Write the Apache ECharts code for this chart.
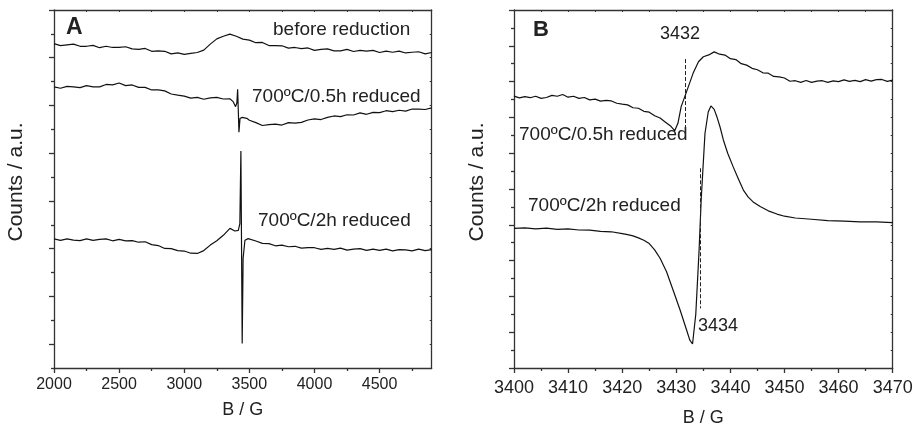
<!DOCTYPE html>
<html><head><meta charset="utf-8">
<script src="https://cdn.jsdelivr.net/npm/echarts@6/dist/echarts.min.js"></script>
<style>html,body{margin:0;padding:0;background:#fff}#c{width:913px;height:427px}</style>
</head><body><div id="c"></div>
<script>
// ---------- Panel A data (B / G vs counts, arbitrary units) ----------
const aBeforeX = [2000,2050,2100,2150,2200,2250,2300,2350,2400,2450,2500,2550,2600,2650,2700,2750,2800,2850,2900,2950,3000,3050,3100,3150,3200,3250,3300,3350,3400,3450,3500,3550,3600,3650,3700,3750,3800,3850,3900,3950,4000,4050,4100,4150,4200,4250,4300,4350,4400,4450,4500,4550,4600,4650,4700,4750,4800,4850,4900];
const aBeforeY = [13.59,13.51,13.54,13.57,13.48,13.48,13.52,13.42,13.48,13.43,
                  13.43,13.46,13.37,13.35,13.39,13.27,13.29,13.27,13.16,13.20,
                  13.14,13.18,13.22,13.32,13.57,13.79,13.90,13.99,13.90,13.78,
                  13.74,13.63,13.64,13.51,13.51,13.50,13.40,13.43,13.38,13.41,
                  13.31,13.35,13.37,13.29,13.29,13.35,13.26,13.31,13.28,13.31,
                  13.22,13.28,13.23,13.28,13.20,13.23,13.25,13.16,13.22];

const a05X = [2000,2050,2100,2150,2200,2250,2300,2350,2400,2450,2500,2550,2600,2650,2700,2750,2800,2850,2900,2950,3000,3050,3100,3150,3200,3250,3300,3350,
              3376,3394,3404,3410,3415,3420,3428,3445,3480,
              3500,3550,3600,3650,3700,3750,3800,3850,3900,3950,4000,4050,4100,4150,4200,4250,4300,4350,4400,4450,4500,4550,4600,4650,4700,4750,4800,4850,4900];
const a05Y = [11.78,11.72,11.80,11.78,11.75,11.83,11.78,11.78,11.88,11.86,
              11.94,11.83,11.86,11.76,11.76,11.65,11.65,11.61,11.48,11.43,
              11.39,11.31,11.34,11.26,11.32,11.34,11.27,11.28,
              11.16,10.95,11.10,11.68,10.81,9.88,10.45,10.50,10.46,
              10.38,10.28,10.16,10.20,10.22,10.18,10.28,10.26,10.29,10.39,
              10.44,10.41,10.50,10.56,10.53,10.61,10.60,10.69,10.63,10.71,
              10.70,10.78,10.74,10.80,10.76,10.85,10.85,10.83,10.90];

const a2hX = [2000,2050,2100,2150,2200,2250,2300,2350,2400,2450,2500,2550,2600,2650,2700,2750,2800,2850,2900,2950,3000,3050,3100,3150,3200,3250,3300,
              3351,3389,3415,3427,3435,3445,3452,3466,3491,
              3550,3600,3650,3700,3750,3800,3850,3900,3950,4000,4050,4100,4150,4200,4250,4300,4350,4400,4450,4500,4550,4600,4650,4700,4750,4800,4850,4900];
const a2hY = [5.41,5.35,5.41,5.36,5.34,5.41,5.35,5.39,5.41,5.33,
              5.39,5.33,5.34,5.27,5.29,5.17,5.13,5.01,5.00,4.92,
              4.90,4.81,4.80,4.92,5.15,5.33,5.56,
              5.85,5.74,5.77,6.05,9.09,1.03,4.60,5.35,5.42,
              5.32,5.22,5.21,5.12,5.15,5.08,5.10,5.02,5.04,5.04,
              4.97,5.01,4.97,5.02,4.94,4.98,5.00,4.93,4.98,4.93,
              4.98,4.91,4.96,4.95,4.91,4.98,4.92,4.96];

// ---------- Panel B data ----------
const b05X = [3400,3401,3402,3403,3404,3405,3406,3407,3408,3409,3410,3411,3412,3413,3414,3415,3416,3417,3418,3419,3420,3421,3422,3423,3424,3425,3426,3427,3428,3429,
              3429.7,3430.3,3430.9,3431.9,3433.1,3434.1,
              3435,3436,3437,3438,3439,3440,3441,3442,3443,3444,3445,3446,3447,3448,3449,3450,3451,3452,3453,3454,3455,3456,3457,3458,3459,3460,3461,3462,3463,3464,3465,3466,3467,3468,3469,3470];
const b05Y = [15.19,15.09,15.16,15.10,15.18,15.06,15.11,15.23,15.18,15.28,
              15.13,15.18,15.06,15.11,14.98,15.02,14.91,14.95,14.92,14.79,
              14.74,14.70,14.54,14.51,14.34,14.29,14.09,13.97,13.73,13.50,
              13.26,13.67,14.60,15.44,16.46,17.11,
              17.39,17.49,17.66,17.53,17.48,17.28,17.23,17.00,16.92,16.74,
              16.66,16.49,16.47,16.29,16.26,16.20,16.02,16.05,15.96,16.06,
              15.96,16.03,16.05,15.96,16.04,16.00,16.10,16.01,16.07,16.00,
              16.11,16.03,16.11,16.12,16.01,16.08];

const b2hX = [3400,3402,3404,3406,3408,3410,3412,3414,3416,3418,3420,3421,3422,3423,3424,3425,3426,3427,
              3428.2,3429.4,3430.7,3431.9,3432.5,3433.0,3433.6,3434.2,3434.6,3435.3,3435.9,3436.4,
              3437.0,3437.5,3438.1,3438.7,3439.5,3440.5,3441.5,3442.4,3443.3,3444.2,3445.5,3447,3448.6,3450,3452,
              3455,3458,3461,3464,3467,3470];
const b2hY = [7.80,7.83,7.77,7.81,7.74,7.77,7.71,7.70,7.63,7.61,7.51,7.45,7.38,7.27,7.14,6.95,6.60,6.13,
              5.38,4.36,3.24,2.12,1.56,1.34,3.0,6.5,9.4,13.1,14.3,14.64,
              14.45,14.04,13.45,12.74,12.00,11.25,10.55,9.94,9.55,9.28,9.02,8.78,8.60,8.48,8.38,
              8.31,8.23,8.21,8.16,8.16,8.12];

// dashed marker lines in panel B: [x, yTop, yBottom]
const bDashX = [3431.7, 3434.5];
const bDashTop = [17.26, 11.16];
const bDashBottom = [13.18, 3.33];

// ---------- ticks ----------
const aXMajor = [2000,2500,3000,3500,4000,4500];
const aXMinor = [2250,2750,3250,3750,4250,4750];
const aXTop = [2000,2250,2500,2750,3000,3250,3500,3750,4000,4250,4500,4750];
const aYMajor = [1,3,5,7,9,11,13,15];
const aYMinor = [0,2,4,6,8,10,12,14];
const aYRight = [0,1,2,3,4,5,6,7,8,9,10,11,12,13,14,15];
const bXMajor = [3400,3410,3420,3430,3440,3450,3460,3470];
const bXMinor = [3405,3415,3425,3435,3445,3455,3465];
const bXTop = [3400,3405,3410,3415,3420,3425,3430,3435,3440,3445,3450,3455,3460,3465,3470];
const bYMajor = [0,2,4,6,8,10,12,14,16,18,20];
const bYMinor = [1,3,5,7,9,11,13,15,17,19];
const bYRight = [0,1,2,3,4,5,6,7,8,9,10,11,12,13,14,15,16,17,18,19,20];

const FONT = '"Liberation Sans", Arial, Helvetica, sans-serif';
const AX = '#333';
const TXT = '#222';
const LINE = '#111';

function pairs(xs, ys){ const n = Math.min(xs.length, ys.length); const out=[]; for(let i=0;i<n;i++) out.push([xs[i], ys[i]]); return out; }

function axLine(show){ return {show:show, onZero:false, lineStyle:{color:AX, width:1.3}}; }

function xAxisSet(grid, min, max, majors, minors, tops, fs, margin, gap){
  return [
    {type:'value', gridIndex:grid, position:'bottom', min:min, max:max,
     axisLine:axLine(true),
     axisTick:{show:true, inside:false, length:5, customValues:majors, lineStyle:{color:AX, width:1.3}},
     axisLabel:{show:true, customValues:majors, formatter:(v)=>String(v), fontSize:fs, fontFamily:FONT, color:TXT, margin:margin},
     splitLine:{show:false},
     name:'B / G', nameLocation:'middle', nameGap:gap, nameMoveOverlap:false,
     nameTextStyle:{fontSize:18, fontFamily:FONT, color:TXT}},
    {type:'value', gridIndex:grid, position:'bottom', min:min, max:max,
     axisLine:axLine(false),
     axisTick:{show:true, inside:false, length:3, customValues:minors, lineStyle:{color:AX, width:1.3}},
     axisLabel:{show:false}, splitLine:{show:false}},
    {type:'value', gridIndex:grid, position:'top', min:min, max:max,
     axisLine:axLine(true),
     axisTick:{show:true, inside:true, length:2, customValues:tops, lineStyle:{color:AX, width:1}},
     axisLabel:{show:false}, splitLine:{show:false}}
  ];
}
function yAxisSet(grid, min, max, majors, minors, rights){
  return [
    {type:'value', gridIndex:grid, position:'left', min:min, max:max,
     axisLine:axLine(true),
     axisTick:{show:true, inside:false, length:5, customValues:majors, lineStyle:{color:AX, width:1.3}},
     axisLabel:{show:false}, splitLine:{show:false}},
    {type:'value', gridIndex:grid, position:'left', min:min, max:max,
     axisLine:axLine(false),
     axisTick:{show:true, inside:false, length:3, customValues:minors, lineStyle:{color:AX, width:1.3}},
     axisLabel:{show:false}, splitLine:{show:false}},
    {type:'value', gridIndex:grid, position:'right', min:min, max:max,
     axisLine:axLine(true),
     axisTick:{show:true, inside:true, length:2, customValues:rights, lineStyle:{color:AX, width:1}},
     axisLabel:{show:false}, splitLine:{show:false}}
  ];
}

function lineSeries(xi, yi, xs, ys, extra){
  return Object.assign({type:'line', xAxisIndex:xi, yAxisIndex:yi, data:pairs(xs, ys),
    showSymbol:false, symbol:'none', smooth:false, silent:true, animation:false,
    lineStyle:{color:LINE, width:1.2}}, extra||{});
}

const dashData = bDashX.map((x,i)=>[{coord:[x, bDashTop[i]]},{coord:[x, bDashBottom[i]]}]);

function txt(x, y, s, size, bold, extra){
  return Object.assign({type:'text', x:x, y:y, silent:true,
    style:{text:s, font:(bold?'bold ':'')+size+'px '+FONT, fill:TXT, textAlign:'left', textVerticalAlign:'middle'}}, extra||{});
}

const option = {
  animation:false,
  backgroundColor:'#fff',
  grid:[
    {left:54, top:10, width:377.7, height:358, outerBoundsMode:'none', containLabel:false},
    {left:514, top:10, width:378.7, height:358, outerBoundsMode:'none', containLabel:false}
  ],
  xAxis:[].concat(
    xAxisSet(0, 2000, 4900, aXMajor, aXMinor, aXTop, 16, 9, 33),
    xAxisSet(1, 3400, 3470, bXMajor, bXMinor, bXTop, 18, 11, 41)
  ),
  yAxis:[].concat(
    yAxisSet(0, 0, 15, aYMajor, aYMinor, aYRight),
    yAxisSet(1, 0, 20, bYMajor, bYMinor, bYRight)
  ),
  series:[
    lineSeries(0, 0, aBeforeX, aBeforeY),
    lineSeries(0, 0, a05X, a05Y),
    lineSeries(0, 0, a2hX, a2hY),
    lineSeries(3, 3, b05X, b05Y),
    lineSeries(3, 3, b2hX, b2hY, {
      markLine:{silent:true, symbol:['none','none'], animation:false,
        label:{show:false},
        lineStyle:{color:'#222', width:1, type:[4,2]},
        data:dashData}
    })
  ],
  graphic:[
    txt(66, 28, 'A', 23, true),
    txt(273, 30, 'before reduction', 19, false),
    txt(252, 97, '700ºC/0.5h reduced', 19, false),
    txt(258, 221, '700ºC/2h reduced', 19, false),
    txt(533, 30, 'B', 22, true),
    txt(660, 34, '3432', 18, false),
    txt(519, 135, '700ºC/0.5h reduced', 19, false),
    txt(528, 206, '700ºC/2h reduced', 19, false),
    txt(698, 326, '3434', 18, false),
    {type:'text', x:16, y:182, rotation:Math.PI/2, silent:true,
     style:{text:'Counts / a.u.', font:'21px '+FONT, fill:TXT, textAlign:'center', textVerticalAlign:'middle'}},
    {type:'text', x:477, y:182, rotation:Math.PI/2, silent:true,
     style:{text:'Counts / a.u.', font:'21px '+FONT, fill:TXT, textAlign:'center', textVerticalAlign:'middle'}}
  ]
};

const chart = echarts.init(document.getElementById('c'), null, {renderer:'canvas', width:913, height:427});
chart.setOption(option);
</script></body></html>
